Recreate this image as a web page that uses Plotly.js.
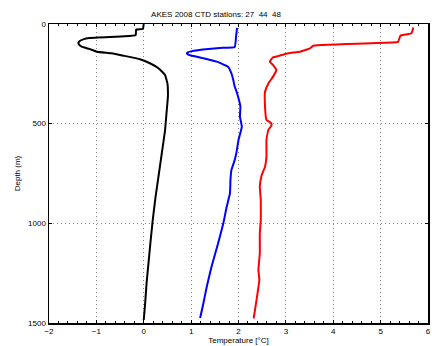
<!DOCTYPE html>
<html><head><meta charset="utf-8">
<script src="https://cdn.plot.ly/plotly-3.0.1.min.js"></script>
<style>html,body{margin:0;padding:0;background:#fff}#c{width:432px;height:346px}</style>
</head><body><div id="c"></div>
<script>
// Station 27 (black)
const depth27 = [0,25,28,55,62,70,77,85,94,105,114,125,139,147,159,177,197,222,256,298,365,448,532,650,750,866,983,1100,1200,1300,1400,1485];
const temp27  = [0.0,-0.02,-0.16,-0.17,-0.4,-1.15,-1.28,-1.35,-1.38,-1.36,-1.31,-1.15,-0.99,-0.68,-0.43,-0.08,0.13,0.31,0.45,0.50,0.51,0.48,0.45,0.38,0.32,0.25,0.19,0.14,0.10,0.06,0.03,0.0];
// Station 44 (blue)
const depth44 = [20,60,115,120,128,136,142,147,152,158,172,189,214,247,281,314,340,381,415,465,515,582,640,682,733,783,850,917,1000,1100,1218,1318,1400,1475];
const temp44  = [1.97,1.95,1.92,1.6,1.25,1.02,0.93,0.91,0.93,1.0,1.26,1.54,1.78,1.85,1.89,1.92,1.96,2.01,2.04,2.03,2.07,2.0,1.96,1.92,1.85,1.83,1.82,1.75,1.68,1.57,1.43,1.33,1.26,1.19];
// Station 48 (red)
const depth48 = [17,47,58,62,89,92,109,122,139,147,160,167,189,206,231,264,298,340,415,482,495,507,532,582,666,716,758,816,883,983,1050,1150,1234,1284,1385,1477];
const temp48  = [5.69,5.65,5.42,5.41,5.37,5.33,3.58,3.51,3.30,3.05,2.85,2.73,2.66,2.73,2.80,2.73,2.63,2.56,2.56,2.59,2.68,2.70,2.63,2.59,2.59,2.56,2.49,2.45,2.47,2.47,2.45,2.45,2.42,2.44,2.38,2.32];

const xTicks = [-2,-1,0,1,2,3,4,5,6];
const yTicks = [0,500,1000,1500];
const titleText = 'AKES 2008 CTD stations: 27\u00a0\u00a044\u00a0\u00a048';

const font = {family:'Liberation Sans, Arial, sans-serif', size:8, color:'#000'};
const mk = (x,y,c)=>({x:x,y:y,type:'scatter',mode:'lines',line:{color:c,width:2,shape:'spline',smoothing:0.3},hoverinfo:'skip'});
const data = [mk(temp27,depth27,'#000000'), mk(temp44,depth44,'#0000ff'), mk(temp48,depth48,'#ff0000')];
const axisCommon = {showline:true, linecolor:'#000', linewidth:1.5, mirror:'ticks', ticks:'inside', ticklen:3, tickcolor:'#000',
  showgrid:true, gridcolor:'#888', griddash:'1px,3px', gridwidth:1, zeroline:false, tickfont:font};
const layout = {
  width:432, height:346, margin:{l:49,r:4,t:24,b:23}, showlegend:false,
  paper_bgcolor:'#fff', plot_bgcolor:'#fff', font:font,
  title:{text:titleText, font:{family:font.family,size:8,color:'#000'}, x:0.5, xanchor:'center', y:1-14/346, yanchor:'middle'},
  xaxis:Object.assign({}, axisCommon, {range:[-2,6], tickvals:xTicks, ticktext:xTicks.map(v=>v<0?'\u2212'+Math.abs(v):String(v)),
    minor:{dtick:0.2, ticks:'inside', ticklen:2, tickcolor:'#000', showgrid:false},
    title:{text:'Temperature [\u00b0C]', font:font, standoff:2}}),
  yaxis:Object.assign({}, axisCommon, {range:[1500,0], tickvals:yTicks, ticktext:yTicks.map(String),
    title:{text:'Depth (m)', font:font, standoff:6}})
};
Plotly.newPlot('c', data, layout, {staticPlot:true, displayModeBar:false});
</script></body></html>
